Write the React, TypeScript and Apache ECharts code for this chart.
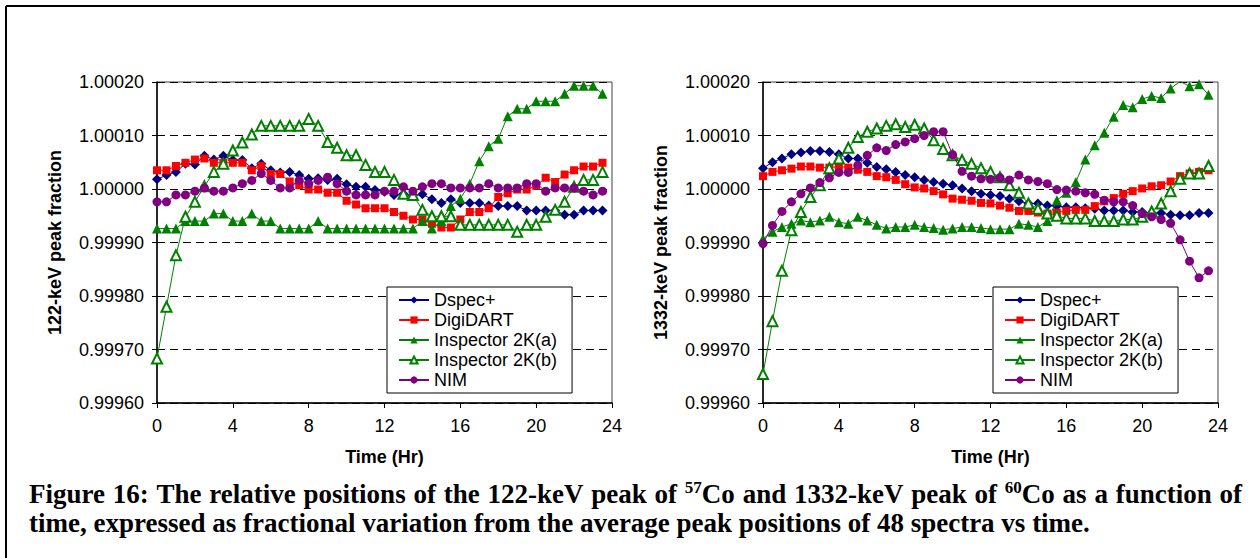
import React, { useEffect, useRef } from 'react';
import * as echarts from 'echarts';

// Time axis (hours)
const hours = [
  0, 0.5, 1, 1.5, 2, 2.5, 3, 3.5, 4, 4.5, 5, 5.5, 6, 6.5, 7, 7.5, 8, 8.5, 9, 9.5,
  10, 10.5, 11, 11.5, 12, 12.5, 13, 13.5, 14, 14.5, 15, 15.5, 16, 16.5, 17, 17.5,
  18, 18.5, 19, 19.5, 20, 20.5, 21, 21.5, 22, 22.5, 23, 23.5,
];

const seriesNames = ['Dspec+', 'DigiDART', 'Inspector 2K(a)', 'Inspector 2K(b)', 'NIM'];

// Peak fraction deviations from 1, in units of 1e-5
// 122-keV (57Co)
const co57Dspec = [1.8, 2.6, 3.2, 4.7, 4.6, 6.2, 5.5, 6.2, 5.4, 5.4, 3.9, 4.7, 3.5, 3.1, 3.2, 2.6, 1.9, 2.0, 1.7, 1.9, 0.9, 0.4, 0.4, -0.2, -0.5, -1.1, -0.9, -1.2, -1.0, -1.9, -2.6, -1.9, -2.6, -2.6, -2.6, -3.1, -3.2, -3.2, -3.2, -4.0, -4.0, -4.0, -4.0, -4.8, -4.8, -4.0, -4.0, -4.0];
const co57Digi = [3.5, 3.5, 4.3, 4.9, 5.5, 5.7, 4.9, 4.9, 4.9, 4.9, 3.5, 4.3, 2.8, 2.8, 1.4, 0.7, -0.1, -0.1, -0.7, -0.7, -2.2, -2.9, -3.6, -3.6, -3.6, -4.3, -5.0, -5.7, -5.7, -6.5, -7.2, -7.2, -5.7, -4.3, -4.3, -3.6, -1.5, -0.8, -0.1, -0.1, 0.6, 2.1, 1.3, 2.7, 3.5, 4.2, 4.2, 4.9];
const co57Insp2Ka = [-7.4, -7.4, -7.4, -6.0, -6.0, -6.0, -4.6, -4.6, -6.0, -6.0, -4.6, -6.0, -6.0, -7.4, -7.4, -7.4, -7.4, -6.0, -7.4, -7.4, -7.4, -7.4, -7.4, -7.4, -7.4, -7.4, -7.4, -7.4, -6.0, -7.4, -6.0, -3.2, -1.8, 1.0, 5.2, 8.0, 9.4, 13.6, 15.0, 15.0, 16.4, 16.4, 16.4, 17.8, 19.3, 19.3, 19.3, 17.8];
const co57Insp2Kb = [-31.7, -22.0, -12.4, -5.2, -2.4, 0.5, 3.2, 4.7, 7.2, 8.7, 10.2, 11.8, 11.8, 11.8, 11.8, 11.8, 13.1, 11.8, 8.8, 7.7, 6.3, 6.3, 4.5, 3.2, 3.2, 1.7, -0.9, -1.1, -3.9, -5.1, -5.1, -5.1, -6.7, -6.7, -6.7, -6.7, -6.7, -6.7, -8.0, -6.7, -6.7, -5.2, -3.9, -2.4, 0.4, 1.7, 1.7, 3.2];
const co57Nim = [-2.4, -2.4, -1.1, -1.1, -0.4, 0.2, -0.4, -0.4, 0.2, 1.0, 1.6, 2.9, 1.6, 0.2, 0.2, 1.6, 1.0, 1.6, 2.2, 1.0, -0.4, -1.1, -1.1, -1.1, -0.4, -0.4, 0.4, -0.4, 0.4, 1.0, 1.0, 0.2, 0.2, 0.2, 0.2, 1.0, 0.2, 0.2, 0.2, 1.0, 1.0, -0.4, 0.2, 0.2, 0.2, -0.4, -1.1, -0.4];

// 1332-keV (60Co)
const co60Dspec = [3.9, 5.0, 5.7, 6.5, 6.8, 7.1, 7.1, 6.9, 6.5, 5.7, 5.7, 4.9, 4.1, 3.7, 3.2, 2.6, 2.2, 1.7, 1.3, 1.0, 0.7, 0.1, -0.4, -0.9, -1.1, -1.3, -1.8, -2.3, -2.7, -2.7, -3.1, -3.2, -3.4, -3.4, -3.6, -3.7, -4.0, -4.0, -4.0, -4.3, -4.3, -4.5, -4.5, -4.8, -4.9, -4.9, -4.5, -4.5];
const co60Digi = [2.4, 3.2, 3.5, 3.8, 4.2, 4.2, 4.0, 4.0, 4.2, 4.0, 3.6, 3.2, 2.4, 2.2, 1.7, 0.9, 0.3, 0.1, -0.4, -1.0, -1.8, -2.0, -2.2, -2.6, -2.7, -3.1, -3.5, -4.1, -4.1, -4.4, -4.6, -4.4, -4.1, -3.9, -3.9, -3.2, -2.3, -1.7, -0.9, -0.4, 0.1, 0.5, 0.7, 1.4, 2.4, 2.9, 3.2, 3.5];
const co60Insp2Ka = [-9.3, -8.0, -7.1, -6.5, -5.9, -6.2, -5.9, -5.2, -6.2, -6.5, -5.2, -5.9, -6.7, -7.4, -7.1, -7.1, -6.7, -7.1, -7.3, -7.6, -7.4, -7.1, -7.1, -7.3, -7.5, -7.5, -7.5, -6.5, -6.7, -7.1, -6.0, -2.1, -0.7, 1.3, 5.5, 8.2, 10.5, 13.5, 15.7, 15.3, 16.8, 17.4, 17.0, 18.8, 20.1, 19.2, 19.6, 17.6];
const co60Insp2Kb = [-34.6, -24.7, -15.3, -7.7, -4.3, -1.5, 0.7, 3.9, 5.7, 7.7, 9.7, 10.7, 11.3, 11.8, 12.1, 11.6, 12.0, 11.3, 9.1, 7.5, 6.3, 5.4, 4.7, 3.9, 3.2, 2.2, 0.7, -0.7, -2.7, -3.7, -4.6, -5.0, -5.5, -5.5, -5.5, -6.0, -6.0, -6.0, -5.7, -5.7, -5.2, -4.2, -2.7, -0.4, 1.9, 2.9, 2.9, 4.3];
const co60Nim = [-10.2, -6.8, -4.2, -2.4, -0.9, 0.2, 1.2, 2.1, 3.1, 3.1, 4.4, 6.3, 7.7, 7.2, 8.3, 8.8, 9.4, 10.0, 10.7, 10.7, 6.4, 3.3, 2.4, 1.9, 1.8, 2.1, 1.7, 2.6, 1.7, 1.4, 1.0, -0.1, -0.2, -0.4, -0.7, -1.0, -2.1, -2.4, -2.4, -3.1, -4.6, -5.2, -5.7, -6.4, -9.5, -13.5, -16.6, -15.3];

const yMin = 0.9996;
const yMax = 1.0002;
const yStep = 0.0001;
const xMin = 0;
const xMax = 24;
const xStep = 4;

const panels = [
  { title: '122-keV peak fraction', data: [co57Dspec, co57Digi, co57Insp2Ka, co57Insp2Kb, co57Nim] },
  { title: '1332-keV peak fraction', data: [co60Dspec, co60Digi, co60Insp2Ka, co60Insp2Kb, co60Nim] },
];

const captionLine1 = [
  [['Figure', 'w']], [['16:', 'w']], [['The', 'w']], [['relative', 'w']], [['positions', 'w']],
  [['of', 'w']], [['the', 'w']], [['122-keV', 'w']], [['peak', 'w']], [['of', 'w']],
  [['57', 'sup'], ['Co', 'w']], [['and', 'w']], [['1332-keV', 'w']], [['peak', 'w']], [['of', 'w']],
  [['60', 'sup'], ['Co', 'w']], [['as', 'w']], [['a', 'w']], [['function', 'w']], [['of', 'w']],
];
const captionLine2 = 'time, expressed as fractional variation from the average peak positions of 48 spectra vs time.';

const SANS = '"Liberation Sans", Arial, sans-serif';
const SERIF = '"Liberation Serif", "Times New Roman", serif';
const colors = ['#000080', '#FF0000', '#008000', '#008000', '#800080'];
const symbols = ['diamond', 'rect', 'triangle', 'emptyTriangle', 'circle'];
const symbolSizes = [10, 8, 10, 10, 9];

export default function App() {
  const ref = useRef<HTMLDivElement>(null);

  useEffect(() => {
    if (!ref.current) return;
    const chart = echarts.init(ref.current, null, { renderer: 'svg' });

    const capSize = 27;
    const supSize = 17;
    const ctx = document.createElement('canvas').getContext('2d')!;
    let wordsWidth = 0;
    captionLine1.forEach((word) => {
      word.forEach(([t, s]) => {
        ctx.font = `bold ${s === 'sup' ? supSize : capSize}px "Liberation Serif"`;
        wordsWidth += ctx.measureText(t).width;
      });
    });
    const capLeft = 29;
    const capRight = 1242;
    const spaceW = Math.max(4, (capRight - capLeft - wordsWidth) / (captionLine1.length - 1));
    const line1Rich = captionLine1
      .map((word) => word.map(([t, s]) => `{${s}|${t}}`).join(''))
      .join('{sp| }');

    const gridLefts = [157, 763];
    const gridTop = 82;
    const gridW = 455;
    const gridH = 321;

    const grids = gridLefts.map((left) => ({
      left, top: gridTop, width: gridW, height: gridH,
      show: true, borderColor: '#404040', borderWidth: 1, backgroundColor: 'transparent',
    }));

    const xAxes = gridLefts.map((_, i) => ({
      gridIndex: i, type: 'value', min: xMin, max: xMax, interval: xStep,
      axisLine: { show: true, onZero: false, lineStyle: { color: '#000', width: 1.5 } },
      axisTick: { show: true, length: 5, lineStyle: { color: '#000' } },
      axisLabel: { fontSize: 18, color: '#000', fontFamily: SANS, margin: 14 },
      splitLine: { show: false },
    }));

    const yAxes = gridLefts.map((_, i) => ({
      gridIndex: i, type: 'value', min: yMin, max: yMax, interval: yStep,
      axisLine: { show: true, onZero: false, lineStyle: { color: '#000', width: 1.5 } },
      axisTick: { show: true, length: 5, lineStyle: { color: '#000' } },
      axisLabel: {
        fontSize: 18, color: '#000', fontFamily: SANS, margin: 13,
        formatter: (v: number) => v.toFixed(5),
      },
      splitLine: { show: true, lineStyle: { color: '#000', type: [8, 5], width: 1 } },
    }));

    const series: any[] = [];
    panels.forEach((p, pi) => {
      p.data.forEach((vals, si) => {
        series.push({
          name: seriesNames[si],
          type: 'line',
          xAxisIndex: pi,
          yAxisIndex: pi,
          data: hours.map((h, k) => [h, 1 + vals[k] * 1e-5]),
          symbol: symbols[si],
          symbolSize: symbolSizes[si],
          showSymbol: true,
          lineStyle: { color: colors[si], width: 1 },
          itemStyle: { color: colors[si] },
          z: 2 + si,
        });
      });
    });

    const legends = gridLefts.map((left) => ({
      orient: 'vertical',
      left: left + 230,
      top: 287,
      data: seriesNames,
      itemWidth: 30,
      itemHeight: 9,
      itemGap: 0,
      padding: [3, 15, 3, 11],
      borderColor: '#000',
      borderWidth: 1,
      backgroundColor: '#fff',
      textStyle: { fontSize: 18, color: '#000', fontFamily: SANS, lineHeight: 20 },
      selectedMode: false,
    }));

    const graphic: any[] = [
      { type: 'line', shape: { x1: 6, y1: 6, x2: 1260, y2: 6 }, style: { stroke: '#000', lineWidth: 2 } },
      { type: 'line', shape: { x1: 6, y1: 6, x2: 6, y2: 558 }, style: { stroke: '#000', lineWidth: 2 } },
    ];
    panels.forEach((p, i) => {
      const left = gridLefts[i];
      graphic.push({
        type: 'text', x: left - 102.5, y: gridTop + gridH / 2, rotation: Math.PI / 2,
        style: {
          text: p.title, fontSize: 18, fontWeight: 'bold', fontFamily: SANS, fill: '#000',
          align: 'center', verticalAlign: 'middle', textAlign: 'center', textVerticalAlign: 'middle',
        },
      });
      graphic.push({
        type: 'text', x: left + gridW / 2, y: 457,
        style: {
          text: 'Time (Hr)', fontSize: 18, fontWeight: 'bold', fontFamily: SANS, fill: '#000',
          align: 'center', verticalAlign: 'middle', textAlign: 'center', textVerticalAlign: 'middle',
        },
      });
    });
    graphic.push({
      type: 'text', x: capLeft, y: 479,
      style: {
        text: line1Rich, fill: '#000', fontSize: capSize, fontWeight: 'bold', fontFamily: SERIF,
        align: 'left', verticalAlign: 'top', textAlign: 'left', textVerticalAlign: 'top',
        rich: {
          w: { fontSize: capSize, fontWeight: 'bold', fontFamily: SERIF, lineHeight: 30, fill: '#000', color: '#000' },
          sp: { width: spaceW, fontSize: capSize, fontFamily: SERIF, lineHeight: 30 },
          sup: { fontSize: supSize, fontWeight: 'bold', fontFamily: SERIF, lineHeight: 16, verticalAlign: 'top', fill: '#000', color: '#000' },
        },
      },
    });
    graphic.push({
      type: 'text', x: capLeft, y: 509,
      style: {
        text: captionLine2, fill: '#000', fontSize: capSize, fontWeight: 'bold', fontFamily: SERIF,
        align: 'left', verticalAlign: 'top', textAlign: 'left', textVerticalAlign: 'top',
      },
    });

    chart.setOption({
      animation: false,
      backgroundColor: '#fff',
      grid: grids,
      xAxis: xAxes,
      yAxis: yAxes,
      legend: legends,
      series,
      graphic,
    });

    return () => chart.dispose();
  }, []);

  return (
    <div
      ref={ref}
      style={{ position: 'absolute', left: 0, top: 0, width: 1260, height: 558 }}
    />
  );
}
